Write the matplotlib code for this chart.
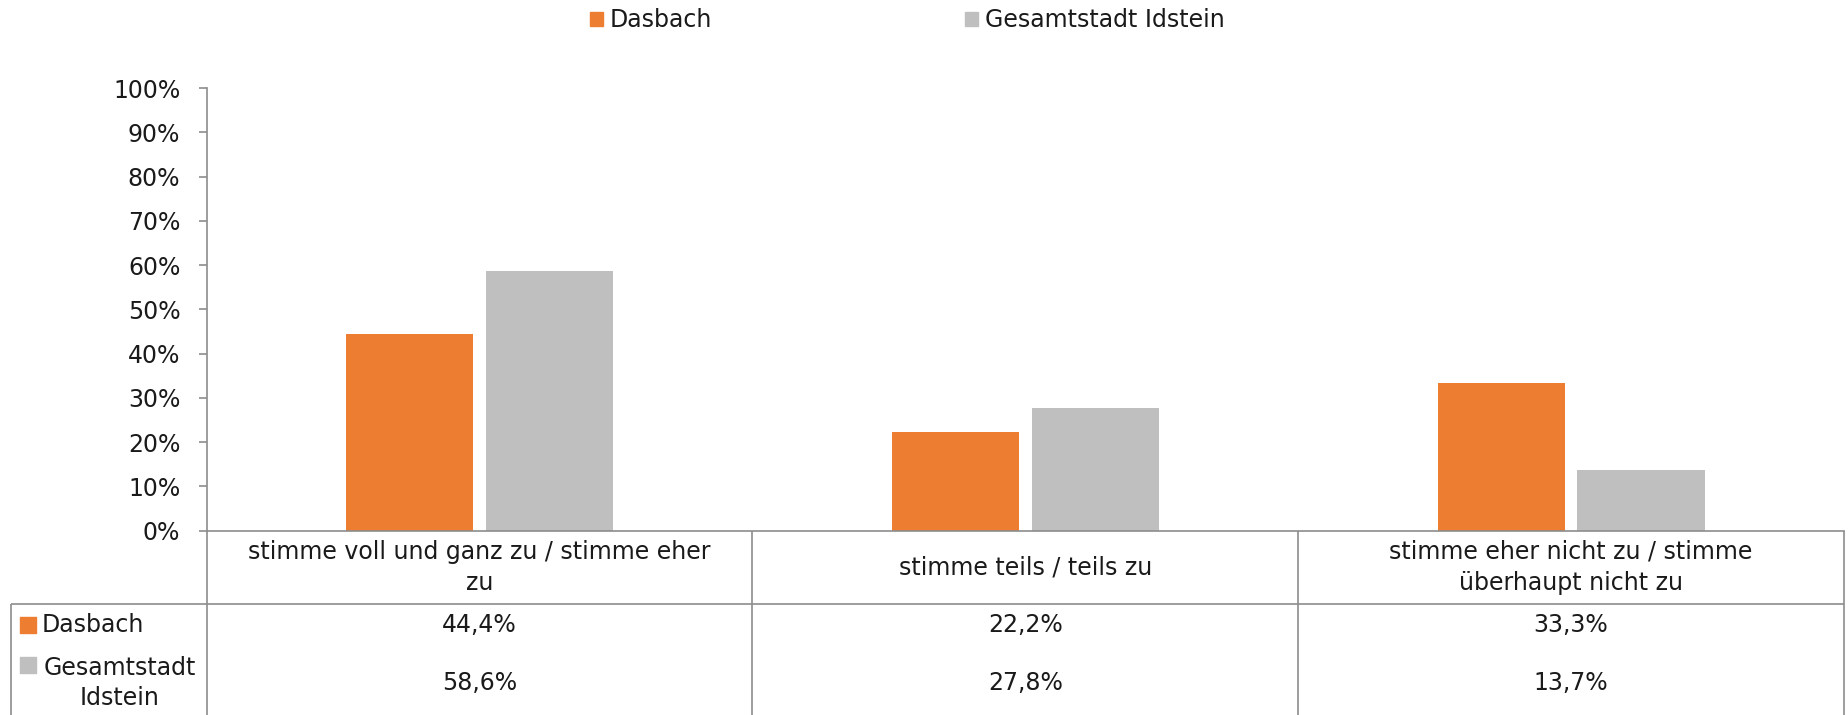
import matplotlib
matplotlib.use('agg')

import matplotlib.pyplot as plt
import matplotlib.patches as mpatches
import numpy as np

categories = [
    'stimme voll und ganz zu / stimme eher\nzu',
    'stimme teils / teils zu',
    'stimme eher nicht zu / stimme\nüberhaupt nicht zu',
]
series_names = ['Dasbach', 'Gesamtstadt Idstein']
table_names = ['Dasbach', 'Gesamtstadt\nIdstein']
dasbach = [0.444, 0.222, 0.333]
idstein = [0.586, 0.278, 0.137]
colors = ['#ED7D31', '#BFBFBF']

plt.rcParams['font.family'] = ['DejaVu Sans']
fs = 17
line_col = '#8c8c8c'
txt_col = '#1a1a1a'

fig = plt.figure(figsize=(18.48, 7.15), dpi=100)
ax = fig.add_axes([206.7 / 1848, 1 - 530.7 / 715, 1637.3 / 1848, 442.7 / 715])

x = np.arange(len(categories))
w = 0.233
off = 0.128
ax.bar(x - off, dasbach, w, color=colors[0], zorder=2)
ax.bar(x + off, idstein, w, color=colors[1], zorder=2)

ax.set_xlim(-0.5, len(categories) - 0.5)
ax.set_ylim(0, 1)
ax.set_yticks(np.arange(0, 1.01, 0.1))
ax.yaxis.set_major_formatter(matplotlib.ticker.FuncFormatter(lambda v, p: '%d%%' % round(v * 100)))
ax.tick_params(axis='y', length=6, width=1.2, color=line_col, labelsize=fs, labelcolor=txt_col, pad=13)
ax.set_xticks([])
for s in ['top', 'right']:
    ax.spines[s].set_visible(False)
for s in ['left', 'bottom']:
    ax.spines[s].set_color(line_col)
    ax.spines[s].set_linewidth(1.2)

# data table below the axis
tr = ax.get_xaxis_transform()  # x in data, y in axes fraction
y_head = -73.3 / 442.7
y_bot = -184.3 / 442.7
x_left_ax = (11 - 206.7) / 1637.3
kw = dict(color=line_col, lw=1.2, clip_on=False, solid_capstyle='butt')

# vertical lines
for b in np.arange(-0.5, len(categories), 1.0):
    ax.plot([b, b], [0, y_bot], transform=tr, **kw)
ax.plot([x_left_ax, x_left_ax], [y_head, y_bot], transform=ax.transAxes, **kw)
# horizontal line under header
ax.plot([x_left_ax, 1], [y_head, y_head], transform=ax.transAxes, **kw)

# header texts
for i, c in enumerate(categories):
    ax.text(i, y_head / 2, c, transform=tr, ha='center', va='center',
            fontsize=fs, color=txt_col, linespacing=1.38, multialignment='center')

# value rows
row_y = [-94.3 / 442.7, -152 / 442.7]
for r, vals in enumerate([dasbach, idstein]):
    for i, v in enumerate(vals):
        ax.text(i, row_y[r], ('%.1f%%' % (v * 100)).replace('.', ','), transform=tr,
                ha='center', va='center', fontsize=fs, color=txt_col)

# row labels with colour keys
mk_x = (27.5 - 206.7) / 1637.3
ax.scatter([mk_x], [row_y[0]], marker='s', s=120, color=colors[0], transform=ax.transAxes, clip_on=False)
ax.text((42 - 206.7) / 1637.3, row_y[0], table_names[0], transform=ax.transAxes,
        ha='left', va='center', fontsize=fs, color=txt_col)
ax.scatter([mk_x], [-134.3 / 442.7], marker='s', s=120, color=colors[1], transform=ax.transAxes, clip_on=False)
ax.text((120 - 206.7) / 1637.3, row_y[1], table_names[1], transform=ax.transAxes,
        ha='center', va='center', fontsize=fs, color=txt_col, linespacing=1.3, multialignment='center')

# legend on top
handles = [mpatches.Patch(color=colors[i], label=series_names[i]) for i in range(2)]
fig.legend(handles=handles, loc='center', bbox_to_anchor=(907 / 1848, 1 - 20 / 715), ncol=2,
           frameon=False, fontsize=fs, handlelength=0.55, handleheight=0.55,
           handletextpad=0.3, columnspacing=10.7, labelcolor=txt_col)

fig.savefig('out.png', dpi=100)
